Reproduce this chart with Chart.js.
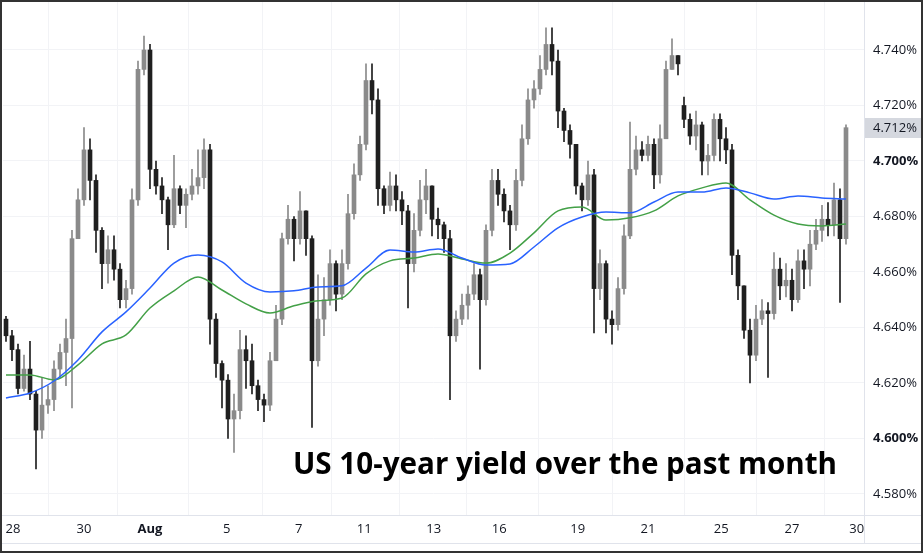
<!DOCTYPE html>
<html>
<head>
<meta charset="utf-8">
<script src="https://cdn.jsdelivr.net/npm/chart.js@4.4.1/dist/chart.umd.min.js"></script>
<style>
  body { margin: 0; background: #fff; }
  #wrap { position: relative; width: 923px; height: 553px; overflow: hidden; }
  #chart { position: absolute; left: 0; top: 0; }
  .rule { position: absolute; background: #e0e3eb; }
  #title {
    position: absolute; left: 293px; top: 448px; margin: 0;
    font: bold 29.6px "Open Sans", sans-serif; line-height: 29.6px;
    color: #000; white-space: nowrap;
  }
  #frame {
    position: absolute; left: 0; top: 0; right: 0; bottom: 0;
    border: 2px solid #333; pointer-events: none;
  }
</style>
</head>
<body>
<div id="wrap">
  <canvas id="chart" width="923" height="553"></canvas>
  <div class="rule" style="left:0;top:515px;width:923px;height:1px"></div>
  <div class="rule" style="left:0;top:543px;width:923px;height:1px"></div>
  <div class="rule" style="left:864px;top:0;width:1px;height:543px"></div>
  <p id="title">US 10-year yield over the past month</p>
  <div id="frame"></div>
</div>
<script>
// candles, one every step on the time axis (yield in %)
const opens = [
  4.643, 4.637, 4.632, 4.618, 4.625, 4.616, 4.603, 4.612, 4.614, 4.625,
  4.631, 4.636, 4.672, 4.686, 4.704, 4.693, 4.675, 4.663, 4.668, 4.661,
  4.650, 4.654, 4.686, 4.733, 4.740, 4.697, 4.691, 4.686, 4.677, 4.690,
  4.684, 4.688, 4.691, 4.694, 4.704, 4.643, 4.627, 4.621, 4.607, 4.610,
  4.632, 4.628, 4.619, 4.614, 4.612, 4.628, 4.643, 4.672, 4.679, 4.672,
  4.682, 4.672, 4.628, 4.643, 4.650, 4.663, 4.652, 4.663, 4.681, 4.695,
  4.706, 4.729, 4.722, 4.690, 4.684, 4.691, 4.686, 4.682, 4.663, 4.675,
  4.686, 4.691, 4.679, 4.677, 4.672, 4.637, 4.643, 4.648, 4.652, 4.659,
  4.650, 4.675, 4.693, 4.688, 4.682, 4.677, 4.693, 4.708, 4.722, 4.726,
  4.733, 4.742, 4.736, 4.718, 4.711, 4.706, 4.691, 4.686, 4.695, 4.654,
  4.663, 4.643, 4.641, 4.654, 4.673, 4.697, 4.704, 4.702, 4.706, 4.695,
  4.708, 4.733, 4.738, 4.720, 4.715, 4.709, 4.713, 4.700, 4.702, 4.715,
  4.708, 4.704, 4.666, 4.655, 4.639, 4.630, 4.643, 4.646, 4.645, 4.661,
  4.655, 4.657, 4.650, 4.664, 4.661, 4.670, 4.675, 4.679, 4.677, 4.686,
  4.672
];
const closes = [
  4.637, 4.632, 4.618, 4.625, 4.616, 4.603, 4.612, 4.614, 4.625, 4.631,
  4.636, 4.672, 4.686, 4.704, 4.693, 4.675, 4.663, 4.668, 4.661, 4.650,
  4.654, 4.686, 4.733, 4.740, 4.697, 4.691, 4.686, 4.677, 4.690, 4.684,
  4.688, 4.691, 4.694, 4.704, 4.643, 4.627, 4.621, 4.607, 4.610, 4.632,
  4.628, 4.619, 4.614, 4.612, 4.628, 4.643, 4.672, 4.679, 4.672, 4.682,
  4.672, 4.628, 4.643, 4.650, 4.663, 4.652, 4.663, 4.681, 4.695, 4.706,
  4.729, 4.722, 4.690, 4.684, 4.691, 4.686, 4.682, 4.663, 4.675, 4.686,
  4.691, 4.679, 4.677, 4.672, 4.637, 4.643, 4.648, 4.652, 4.659, 4.650,
  4.675, 4.693, 4.688, 4.682, 4.677, 4.693, 4.708, 4.722, 4.726, 4.733,
  4.742, 4.736, 4.718, 4.711, 4.706, 4.691, 4.686, 4.695, 4.654, 4.663,
  4.643, 4.641, 4.654, 4.673, 4.697, 4.704, 4.702, 4.706, 4.695, 4.708,
  4.733, 4.738, 4.735, 4.715, 4.709, 4.713, 4.700, 4.702, 4.715, 4.708,
  4.704, 4.666, 4.655, 4.639, 4.630, 4.643, 4.646, 4.645, 4.661, 4.655,
  4.657, 4.650, 4.664, 4.661, 4.670, 4.675, 4.679, 4.677, 4.686, 4.672,
  4.712
];
const highs = [
  4.644, 4.639, 4.634, 4.630, 4.635, 4.617, 4.622, 4.619, 4.628, 4.634,
  4.643, 4.675, 4.690, 4.712, 4.708, 4.695, 4.676, 4.673, 4.673, 4.663,
  4.657, 4.690, 4.736, 4.745, 4.742, 4.700, 4.694, 4.687, 4.702, 4.691,
  4.690, 4.697, 4.704, 4.708, 4.706, 4.645, 4.628, 4.623, 4.616, 4.639,
  4.637, 4.634, 4.621, 4.616, 4.631, 4.648, 4.674, 4.684, 4.680, 4.689,
  4.682, 4.673, 4.659, 4.658, 4.668, 4.664, 4.668, 4.688, 4.699, 4.709,
  4.735, 4.735, 4.726, 4.691, 4.696, 4.695, 4.689, 4.684, 4.681, 4.693,
  4.697, 4.691, 4.683, 4.678, 4.675, 4.646, 4.652, 4.655, 4.663, 4.661,
  4.677, 4.697, 4.697, 4.690, 4.684, 4.697, 4.713, 4.726, 4.729, 4.738,
  4.748, 4.748, 4.740, 4.719, 4.713, 4.706, 4.692, 4.700, 4.697, 4.668,
  4.664, 4.646, 4.658, 4.677, 4.714, 4.709, 4.707, 4.709, 4.708, 4.713,
  4.736, 4.744, 4.738, 4.723, 4.717, 4.718, 4.714, 4.706, 4.717, 4.717,
  4.712, 4.706, 4.668, 4.655, 4.643, 4.648, 4.650, 4.649, 4.667, 4.665,
  4.663, 4.661, 4.668, 4.668, 4.675, 4.679, 4.684, 4.685, 4.692, 4.690,
  4.713
];
const lows = [
  4.635, 4.628, 4.616, 4.617, 4.614, 4.589, 4.600, 4.609, 4.610, 4.622,
  4.619, 4.611, 4.672, 4.684, 4.686, 4.667, 4.654, 4.656, 4.657, 4.647,
  4.647, 4.652, 4.684, 4.731, 4.690, 4.688, 4.681, 4.668, 4.676, 4.681,
  4.676, 4.686, 4.688, 4.690, 4.634, 4.622, 4.611, 4.600, 4.595, 4.607,
  4.618, 4.616, 4.610, 4.606, 4.610, 4.628, 4.641, 4.670, 4.664, 4.670,
  4.666, 4.604, 4.626, 4.637, 4.648, 4.646, 4.650, 4.661, 4.679, 4.693,
  4.704, 4.717, 4.684, 4.681, 4.682, 4.682, 4.677, 4.647, 4.660, 4.673,
  4.681, 4.673, 4.672, 4.667, 4.614, 4.635, 4.641, 4.643, 4.650, 4.625,
  4.648, 4.673, 4.684, 4.678, 4.668, 4.675, 4.691, 4.706, 4.719, 4.724,
  4.731, 4.731, 4.712, 4.707, 4.701, 4.688, 4.682, 4.684, 4.638, 4.650,
  4.638, 4.634, 4.639, 4.652, 4.672, 4.695, 4.700, 4.700, 4.690, 4.692,
  4.708, 4.733, 4.731, 4.712, 4.706, 4.704, 4.695, 4.695, 4.700, 4.700,
  4.699, 4.659, 4.650, 4.636, 4.620, 4.628, 4.641, 4.622, 4.643, 4.650,
  4.651, 4.646, 4.649, 4.654, 4.655, 4.668, 4.671, 4.673, 4.673, 4.649,
  4.670
];

// moving averages, read every 4th candle
const maStep = 4;
const maBlue = [
  4.6146, 4.6164, 4.6207, 4.6283, 4.6384, 4.6456, 4.6542, 4.6632, 4.6661, 4.6636,
  4.6560, 4.6528, 4.6532, 4.6546, 4.6550, 4.6614, 4.6679, 4.6672, 4.6683, 4.6650,
  4.6625, 4.6629, 4.6690, 4.6759, 4.6798, 4.6816, 4.6813, 4.6852, 4.6888, 4.6888,
  4.6903, 4.6885, 4.6863, 4.6874, 4.6867, 4.6863
];
const maGreen = [
  4.6229, 4.6229, 4.6211, 4.6265, 4.6341, 4.6373, 4.6470, 4.6532, 4.6582, 4.6535,
  4.6485, 4.6452, 4.6478, 4.6496, 4.6506, 4.6593, 4.6640, 4.6650, 4.6665, 4.6647,
  4.6632, 4.6668, 4.6741, 4.6820, 4.6834, 4.6787, 4.6795, 4.6820, 4.6874, 4.6903,
  4.6921, 4.6860, 4.6805, 4.6773, 4.6766, 4.6773
];

// time axis labels and where they sit (in candle steps)
const xTickLabels = ["28", "30", "Aug", "5", "7", "11", "13", "16", "19", "21", "25", "27", "30"];
const xTickPos = [1.17, 13, 24, 36.8, 48.8, 59.7, 71.3, 82.2, 95.3, 107, 119.2, 131, 141.8];
const yTicks = [4.58, 4.60, 4.62, 4.64, 4.66, 4.68, 4.70, 4.72, 4.74];
const lastPrice = closes[closes.length - 1];

const UP = "#8a8a8a";
const DOWN = "#1f1f1f";
const FONT = "'Open Sans', sans-serif";

function candleColor(i) {
  return closes[i] >= opens[i] ? UP : DOWN;
}

const wickData = highs.map((h, i) => ({ x: i, y: [lows[i], h] }));
const bodyData = closes.map((c, i) => ({ x: i, y: [opens[i], c] }));
const blueData = maBlue.map((v, k) => ({ x: k * maStep, y: v }));
const greenData = maGreen.map((v, k) => ({ x: k * maStep, y: v }));

// grey box with the last price on the price scale
const lastPriceLabel = {
  id: "lastPriceLabel",
  afterDraw(chart) {
    const ctx = chart.ctx;
    const y = Math.round(chart.scales.y.getPixelForValue(lastPrice));
    ctx.save();
    ctx.fillStyle = "#d5d8df";
    ctx.fillRect(865, y - 10, 56, 20);
    ctx.fillStyle = "#131722";
    ctx.font = "13px " + FONT;
    ctx.textBaseline = "middle";
    ctx.textAlign = "left";
    ctx.fillText(lastPrice.toFixed(3) + "%", 873, y);
    ctx.restore();
  },
};

const ctx = document.getElementById("chart").getContext("2d");
new Chart(ctx, {
  type: "bar",
  data: {
    datasets: [
      {
        type: "line",
        data: blueData,
        borderColor: "#2962ff",
        borderWidth: 1.5,
        pointRadius: 0,
        cubicInterpolationMode: "monotone",
        order: 0,
      },
      {
        type: "line",
        data: greenData,
        borderColor: "#43a047",
        borderWidth: 1.5,
        pointRadius: 0,
        cubicInterpolationMode: "monotone",
        order: 0,
      },
      {
        data: bodyData,
        grouped: false,
        barThickness: 4,
        minBarLength: 1,
        borderWidth: 0,
        backgroundColor: (c) => candleColor(c.dataIndex),
        order: 1,
      },
      {
        data: wickData,
        grouped: false,
        barThickness: 1,
        borderWidth: 0,
        backgroundColor: (c) => candleColor(c.dataIndex),
        order: 2,
      },
    ],
  },
  options: {
    responsive: false,
    animation: false,
    layout: { padding: { left: 3, top: 2, right: 0, bottom: 0 } },
    plugins: {
      legend: { display: false },
      tooltip: { enabled: false },
    },
    scales: {
      x: {
        type: "linear",
        min: -0.5,
        max: 143,
        offset: false,
        border: { display: false },
        grid: { color: "#f2f3f6", drawTicks: false },
        afterBuildTicks: (scale) => {
          scale.ticks = xTickPos.map((v) => ({ value: v }));
        },
        afterFit: (scale) => {
          scale.height = 38;
          scale.paddingLeft = 0;
          scale.paddingRight = 0;
        },
        ticks: {
          autoSkip: false,
          maxRotation: 0,
          padding: 6,
          color: "#131722",
          font: (c) => ({
            family: FONT,
            size: 13,
            weight: xTickLabels[c.index] === "Aug" ? "bold" : "normal",
          }),
          callback: (value, index) => xTickLabels[index],
        },
      },
      y: {
        position: "right",
        min: 4.5724,
        max: 4.7573,
        border: { display: false },
        grid: { color: "#f2f3f6", drawTicks: false },
        afterBuildTicks: (scale) => {
          scale.ticks = yTicks.map((v) => ({ value: v }));
        },
        afterFit: (scale) => {
          scale.width = 59;
          scale.paddingTop = 0;
          scale.paddingBottom = 0;
        },
        ticks: {
          padding: 9,
          color: "#131722",
          font: (c) => ({
            family: FONT,
            size: 13,
            weight: c.tick && (Math.abs(c.tick.value - 4.7) < 1e-6 || Math.abs(c.tick.value - 4.6) < 1e-6) ? "bold" : "normal",
          }),
          callback: (value) => value.toFixed(3) + "%",
        },
      },
    },
  },
  plugins: [lastPriceLabel],
});
</script>
</body>
</html>
